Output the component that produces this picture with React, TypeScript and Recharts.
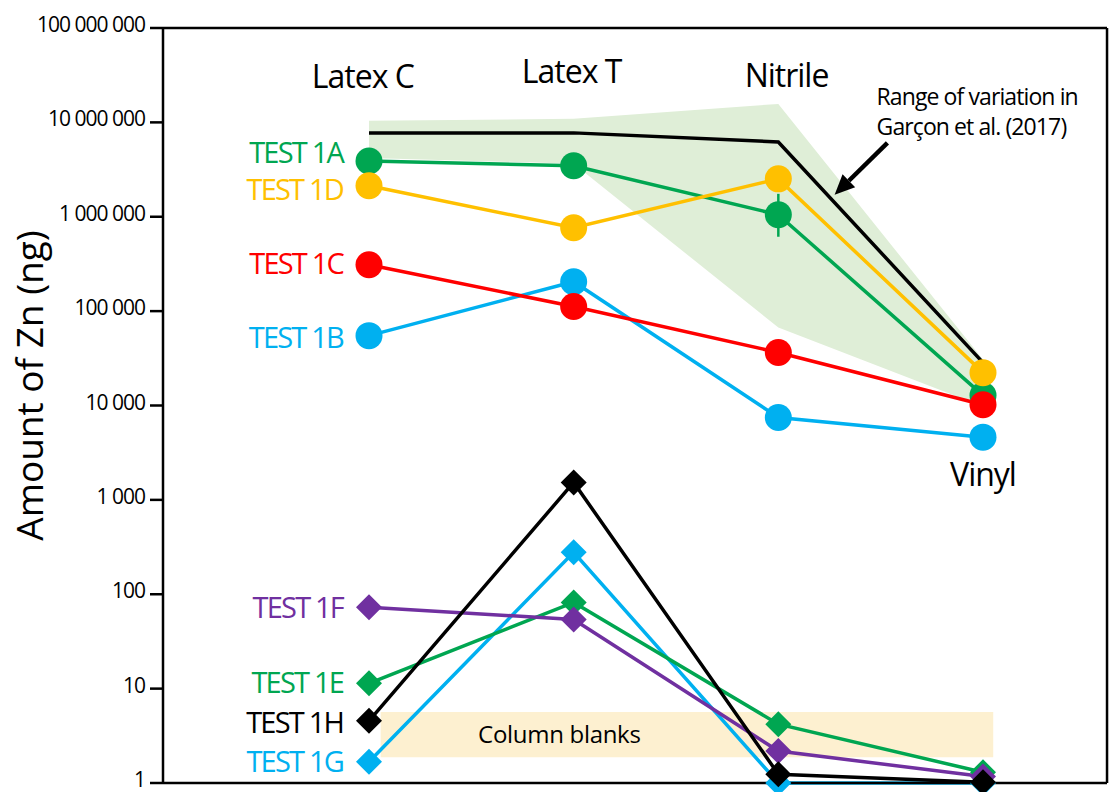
import React from 'react';
import {
  ComposedChart,
  Line,
  Area,
  XAxis,
  YAxis,
  ReferenceArea,
  ReferenceLine,
  ReferenceDot,
  ErrorBar,
  Label,
} from 'recharts';

// ---------- data ----------
const categories = ['Latex C', 'Latex T', 'Nitrile', 'Vinyl'];

const test1A = [3900000, 3470000, 1050000, 12800];
const test1AErr = [[0, 0], [0, 0], [436000, 700000], [0, 0]];
const test1D = [2130000, 765000, 2520000, 22300];
const test1C = [310000, 112000, 36400, 10200];
const test1B = [55000, 205000, 7470, 4620];

const garconLine = [7740000, 7740000, 6200000, 28500];
const garconLow = [4200000, 3650000, 66900, 9770];
const garconHigh = [10400000, 10900000, 15700000, 30700];

const test1F = [72.8, 54, 2.18, 1.17];
const test1E = [11.4, 82, 4.2, 1.3];
const test1H = [4.56, 1530, 1.24, 1.02];
const test1G = [1.68, 278, 1.0, 1.0];

const yTicks = [1, 10, 100, 1000, 10000, 100000, 1000000, 10000000, 100000000];

const blanksRange = [1.88, 5.64];
const blanksSpan = [0.057, 3.05];

// annotation anchors (data coordinates)
const catLabelX = [-0.03, 0.99, 2.04, 3.0];
const catLabelY = [23200000, 26200000, 23800000, 1390];
const rangeNoteAt = { x: 2.48, y: 15300000 };
const arrowSeg = [{ x: 2.533, y: 6070000 }, { x: 2.275, y: 1710000 }];
const blanksLabelAt = { x: 0.93, y: 2.65 };
const frameRightX = 3.606;

// ---------- build rows ----------
const rows = categories.map((c, i) => ({
  x: i,
  cat: c,
  A: test1A[i],
  Aerr: test1AErr[i],
  D: test1D[i],
  C: test1C[i],
  B: test1B[i],
  upper: garconLine[i],
  band: [garconLow[i], garconHigh[i]],
  F: test1F[i],
  E: test1E[i],
  H: test1H[i],
  G: test1G[i],
}));

const FONT = '"Open Sans", "Noto Sans", sans-serif';

type Series = { key: string; label: string; color: string; shape: 'circle' | 'diamond'; labelDy: number };

const circleSeries: Series[] = [
  { key: 'A', label: 'TEST 1A', color: '#00A651', shape: 'circle', labelDy: -8 },
  { key: 'D', label: 'TEST 1D', color: '#FFC000', shape: 'circle', labelDy: 4 },
  { key: 'B', label: 'TEST 1B', color: '#00B0F0', shape: 'circle', labelDy: 2 },
  { key: 'C', label: 'TEST 1C', color: '#FF0000', shape: 'circle', labelDy: -1 },
];
const diamondSeries: Series[] = [
  { key: 'G', label: 'TEST 1G', color: '#00B0F0', shape: 'diamond', labelDy: 0 },
  { key: 'E', label: 'TEST 1E', color: '#00A651', shape: 'diamond', labelDy: -1 },
  { key: 'F', label: 'TEST 1F', color: '#7030A0', shape: 'diamond', labelDy: 0 },
  { key: 'H', label: 'TEST 1H', color: '#000000', shape: 'diamond', labelDy: 2 },
];

const fmt = (v: number) => String(v).replace(/\B(?=(\d{3})+(?!\d))/g, ' ');

const makeDot = (s: Series) => (props: any) => {
  const { cx, cy, index } = props;
  const k = `dot-${s.key}-${index}`;
  if (cx == null || cy == null || isNaN(cx) || isNaN(cy)) return <g key={k} />;
  const mark =
    s.shape === 'circle' ? (
      <circle cx={cx} cy={cy} r={13.5} fill={s.color} />
    ) : (
      <polygon
        points={`${cx},${cy - 13} ${cx + 13},${cy} ${cx},${cy + 13} ${cx - 13},${cy}`}
        fill={s.color}
      />
    );
  return (
    <g key={k}>
      {mark}
      {index === 0 && (
        <text
          x={cx - 26}
          y={cy + s.labelDy}
          dy="0.36em"
          textAnchor="end"
          fontFamily={FONT}
          fontSize={29}
          letterSpacing={-1.8}
          fill={s.color}
        >
          {s.label}
        </text>
      )}
    </g>
  );
};

const YTick = (props: any) => {
  const { x, y, payload } = props;
  return (
    <text
      x={x}
      y={y + 4}
      textAnchor="end"
      fontFamily={FONT}
      fontSize={21}
      letterSpacing={-1}
      fill="#000"
    >
      {fmt(payload.value)}
    </text>
  );
};

const textShape = (txt: string, size: number, anchor: string, spacing = -1) => (p: any) => (
  <text
    x={p.cx}
    y={p.cy}
    textAnchor={anchor}
    fontFamily={FONT}
    fontSize={size}
    letterSpacing={spacing}
    fill="#000"
  >
    {txt}
  </text>
);

const arrowShape = (p: any) => {
  const { x1, y1, x2, y2 } = p;
  const dx = x2 - x1;
  const dy = y2 - y1;
  const len = Math.sqrt(dx * dx + dy * dy) || 1;
  const ux = dx / len;
  const uy = dy / len;
  const head = 20;
  const half = 9;
  const bx = x2 - ux * head;
  const by = y2 - uy * head;
  const pts = `${x2},${y2} ${bx - uy * half},${by + ux * half} ${bx + uy * half},${by - ux * half}`;
  return (
    <g>
      <line x1={x1} y1={y1} x2={bx} y2={by} stroke="#000" strokeWidth={4.5} />
      <polygon points={pts} fill="#000" />
    </g>
  );
};

export default function App() {
  return (
    <div style={{ position: 'absolute', left: 0, top: 0, width: 1110, height: 792, background: '#fff', overflow: 'hidden' }}>
      <ComposedChart
        width={1110}
        height={792}
        data={rows}
        margin={{ top: 28, right: 3, bottom: 8, left: 0 }}
      >
        <XAxis
          dataKey="x"
          type="number"
          domain={[0, 3]}
          ticks={[0, 1, 2, 3]}
          padding={{ left: 206, right: 124 }}
          height={1}
          tick={false}
          tickLine={false}
          axisLine={{ stroke: '#000', strokeWidth: 2.5 }}
        />
        <YAxis
          type="number"
          scale="log"
          domain={[1, 100000000]}
          ticks={yTicks}
          interval={0}
          width={163}
          tickSize={13}
          tickMargin={5}
          axisLine={{ stroke: '#000', strokeWidth: 2.5 }}
          tickLine={{ stroke: '#000', strokeWidth: 2.5 }}
          tick={<YTick />}
        >
          <Label
            content={(p: any) => {
              const vb = p.viewBox || { x: 0, y: 28, width: 163, height: 756 };
              const cx = vb.x + 43;
              const cy = vb.y + vb.height / 2 - 20;
              return (
                <text
                  x={cx}
                  y={cy}
                  transform={`rotate(-90, ${cx}, ${cy})`}
                  textAnchor="middle"
                  fontFamily={FONT}
                  fontSize={37}
                  fill="#000"
                >
                  Amount of Zn (ng)
                </text>
              );
            }}
          />
        </YAxis>

        <ReferenceArea
          x1={blanksSpan[0]}
          x2={blanksSpan[1]}
          y1={blanksRange[0]}
          y2={blanksRange[1]}
          fill="#FDF0D0"
          fillOpacity={1}
          stroke="none"
          ifOverflow="visible"
        />
        <ReferenceDot
          x={blanksLabelAt.x}
          y={blanksLabelAt.y}
          r={0}
          ifOverflow="visible"
          shape={textShape('Column blanks', 24, 'middle', -0.3)}
        />

        <ReferenceLine y={100000000} stroke="#000" strokeWidth={2.5} ifOverflow="visible" />
        <ReferenceLine x={frameRightX} stroke="#000" strokeWidth={2.5} ifOverflow="visible" />

        <Area
          dataKey="band"
          type="linear"
          fill="#DFEED7"
          fillOpacity={1}
          stroke="none"
          isAnimationActive={false}
          activeDot={false}
          dot={false}
        />
        <Line
          dataKey="upper"
          type="linear"
          stroke="#000"
          strokeWidth={3.5}
          dot={false}
          activeDot={false}
          isAnimationActive={false}
        />

        {circleSeries.map((s) => (
          <Line
            key={s.key}
            dataKey={s.key}
            type="linear"
            stroke={s.color}
            strokeWidth={3.5}
            dot={makeDot(s)}
            activeDot={false}
            isAnimationActive={false}
          >
            {s.key === 'A' && (
              <ErrorBar dataKey="Aerr" direction="y" width={0} stroke={s.color} strokeWidth={2.5} />
            )}
          </Line>
        ))}

        {diamondSeries.map((s) => (
          <Line
            key={s.key}
            dataKey={s.key}
            type="linear"
            stroke={s.color}
            strokeWidth={3.5}
            dot={makeDot(s)}
            activeDot={false}
            isAnimationActive={false}
          />
        ))}

        {categories.map((c, i) => (
          <ReferenceDot
            key={`cat-${c}`}
            x={catLabelX[i]}
            y={catLabelY[i]}
            r={0}
            ifOverflow="visible"
            shape={textShape(c, 32, 'middle', -1)}
          />
        ))}

        <ReferenceDot
          x={rangeNoteAt.x}
          y={rangeNoteAt.y}
          r={0}
          ifOverflow="visible"
          shape={(p: any) => (
            <text x={p.cx} y={p.cy} fontFamily={FONT} fontSize={23} letterSpacing={-0.9} fill="#000">
              <tspan x={p.cx}>Range of variation in</tspan>
              <tspan x={p.cx} dy={30}>{'Garçon et al.  (2017)'}</tspan>
            </text>
          )}
        />
        <ReferenceLine segment={arrowSeg} ifOverflow="visible" shape={arrowShape} />
      </ComposedChart>
    </div>
  );
}
